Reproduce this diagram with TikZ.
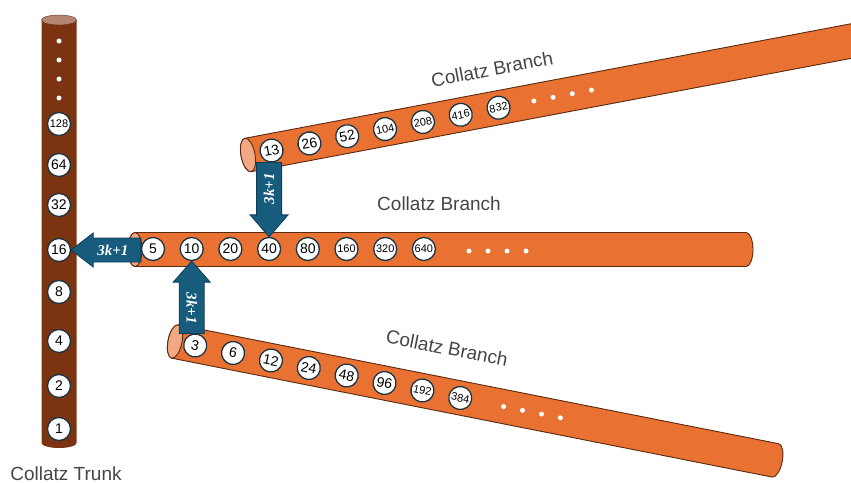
\documentclass[tikz,border=0pt]{standalone}
\usepackage{fontspec}
\setmainfont{Liberation Sans}
\newfontfamily\arrowfont{Liberation Serif}
\usetikzlibrary{calc}

\definecolor{trunkbrown}{HTML}{7B3311}
\definecolor{trunktop}{HTML}{B48570}
\definecolor{branchorange}{HTML}{E97132}
\definecolor{branchcap}{HTML}{F2A882}
\definecolor{edgebrown}{HTML}{5A2A10}
\definecolor{arrowblue}{HTML}{175B7D}
\definecolor{arrowedge}{HTML}{0F3D55}
\definecolor{numedge}{HTML}{1C3545}
\definecolor{titlegray}{HTML}{454545}

\tikzset{
  num/.style={circle, draw=numedge, line width=1.3pt, fill=white,
    minimum size=23pt, inner sep=0pt, font=\fontsize{14}{14}\selectfont},
  pipe/.style={fill=branchorange, draw=edgebrown, line width=0.9pt},
  pipecap/.style={fill=branchcap, draw=edgebrown, line width=0.9pt},
  blockarrow/.style={fill=arrowblue, draw=arrowedge, line width=0.8pt},
  arrowlabel/.style={text=white, font=\arrowfont\bfseries\itshape\fontsize{15}{15}\selectfont},
  hole/.style={circle, fill=white, inner sep=0pt, minimum size=5pt},
  title/.style={text=titlegray, font=\fontsize{19}{19}\selectfont}
}

% orange pipe along the x axis: cap at the origin, rounded far end
\newcommand{\branchpipe}[1]{%
  \draw[pipe] (0,-17) -- (#1,-17)
    arc[start angle=-90, end angle=90, x radius=7, y radius=17]
    -- (0,17) arc[start angle=90, end angle=270, x radius=7, y radius=17] -- cycle;
  \draw[pipecap] (0,0) ellipse[x radius=7, y radius=17];
}
% numbers with three digits get a smaller size
\newcommand{\numtext}[1]{\ifnum#1>99 \fontsize{11}{11}\selectfont\fi#1}

\begin{document}
\begin{tikzpicture}[x=1pt, y=1pt]
    \useasboundingbox (0,0) rectangle (851,-482);
    \clip (0,0) rectangle (851,-482);

    % Trunk
    \fill[trunkbrown] (41.5,-20) -- (41.5,-443)
        arc[start angle=180, end angle=360, x radius=17.5, y radius=5] -- (76.5,-20) -- cycle;
    \draw[fill=trunktop, draw=trunkbrown!80!black] (59,-20) ellipse[x radius=17.5, y radius=5];
    \foreach \y in {41,60,79,98}
        \node[hole] at (59,-\y) {};
    \foreach \v/\y in {128/124,64/165,32/205,16/250,8/292,4/341,2/386,1/429}
        \node[num] (n\v) at (59,-\y) {\numtext{\v}};
    \node[title, anchor=base] (trunktitle) at (66,-480.5) {Collatz Trunk};

    % Middle branch
    \begin{scope}[shift={(135,-249.5)}]
        \branchpipe{611}
        \foreach \v [count=\i from 0] in {5,10,20,40,80,160,320,640}
            \node[num] (n\v) at (18+38.7*\i,0.5) {\numtext{\v}};
        \foreach \i in {0,...,3}
            \node[hole] at (334+19*\i,-1.5) {};
    \end{scope}
    \node[title] (midtitle) at (439,-204) {Collatz Branch};

    % Top branch
    \begin{scope}[shift={(248,-155)}, rotate=10.7]
        \branchpipe{700}
        \foreach \v [count=\i from 0] in {13,26,52,104,208,416,832}
            \node[num, transform shape] (n\v) at (24+38.5*\i,0) {\numtext{\v}};
        \foreach \i in {0,...,3}
            \node[hole] at (291+19.5*\i,0) {};
    \end{scope}
    \node[title, rotate=10.7] (toptitle) at (492,-69) {Collatz Branch};

    % Bottom branch
    \begin{scope}[shift={(175,-341.5)}, rotate=-11.2]
        \branchpipe{612}
        \foreach \v [count=\i from 0] in {3,6,12,24,48,96,192,384}
            \node[num, transform shape] (n\v) at (20.6+38.6*\i,0) {\numtext{\v}};
        \foreach \i in {0,...,3}
            \node[hole] at (335+19.3*\i,0) {};
    \end{scope}
    \node[title, rotate=-11.2] (bottitle) at (447,-348) {Collatz Branch};

    % 3k+1 arrows
    \draw[blockarrow] ($(n16.east -| n5.west)+(0,12)$) -- ($(n16.east)+(22,12)$)
        -- ($(n16.east)+(22,17)$) -- (n16.east) -- ($(n16.east)+(22,-17)$)
        -- ($(n16.east)+(22,-12)$) -- ($(n16.east -| n5.west)+(0,-12)$) -- cycle;
    \node[arrowlabel] at ($(n16.east)!0.6!(n16.east -| n5.west)$) {3k+1};

    \draw[blockarrow] ($(n40 |- n13.south)+(-12.5,0)$) -- ($(n40.north)+(-12.5,22)$)
        -- ($(n40.north)+(-19,22)$) -- (n40.north) -- ($(n40.north)+(19,22)$)
        -- ($(n40.north)+(12.5,22)$) -- ($(n40 |- n13.south)+(12.5,0)$) -- cycle;
    \node[arrowlabel, rotate=90] at ($(n40 |- n13.south)!0.35!(n40.north)$) {3k+1};

    \draw[blockarrow] ($(n10 |- n3.north)+(-12.5,0)$) -- ($(n10.south)+(-12.5,-21)$)
        -- ($(n10.south)+(-18.5,-21)$) -- (n10.south) -- ($(n10.south)+(18.5,-21)$)
        -- ($(n10.south)+(12.5,-21)$) -- ($(n10 |- n3.north)+(12.5,0)$) -- cycle;
    \node[arrowlabel, rotate=-90] at ($(n10 |- n3.north)!0.35!(n10.south)$) {3k+1};
\end{tikzpicture}
\end{document}
